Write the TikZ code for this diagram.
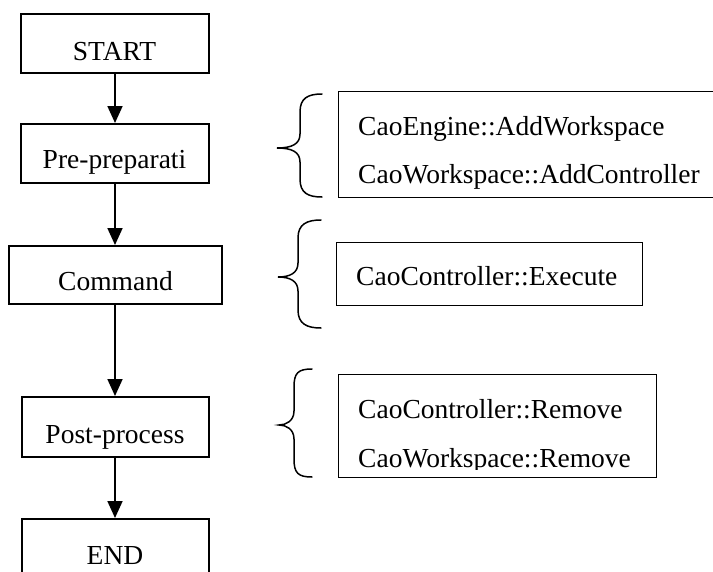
\documentclass[tikz,border=0pt]{standalone}
\usepackage{fontspec}
\setmainfont{Liberation Serif}
\usetikzlibrary{arrows.meta}
\tikzset{
  flowbox/.style={draw, line width=2pt, rectangle, inner sep=0pt},
  infobox/.style={draw, line width=1pt, rectangle, inner sep=0pt},
  txt/.style={font=\fontsize{27.5}{30}\selectfont, inner sep=0pt},
  flowarrow/.style={line width=1.8pt, -{Triangle[width=15pt,length=17pt]}},
  bracestyle/.style={line width=1.5pt, line cap=round}
}
\newcommand\mycurlybrace[6]{%
  % #1 end x, #2 vertical x, #3 tip x, #4 top y, #5 tip y, #6 bottom y
  \draw[bracestyle] (#1,#4) .. controls ({#1-14},#4) and (#2,{#4+4}) .. (#2,{#4+18})
    -- (#2,{#5-14}) .. controls (#2,{#5-4}) and ({#2-8},#5) .. (#3,#5)
    .. controls ({#2-8},#5) and (#2,{#5+4}) .. (#2,{#5+14})
    -- (#2,{#6-18}) .. controls (#2,{#6-4}) and ({#1-14},#6) .. (#1,#6);}
\begin{document}
\begin{tikzpicture}[x=1pt,y=-1pt]
\clip (0,0) rectangle (713,571);
\fill[white] (0,0) rectangle (713,571);
% flow boxes
\node[flowbox, minimum width=188pt, minimum height=59pt] (start) at (115,43.5) {};
\node[flowbox, minimum width=188pt, minimum height=59pt] (pre) at (115,153.5) {};
\node[flowbox, minimum width=213pt, minimum height=58pt] (cmd) at (115,275) {};
\node[flowbox, minimum width=187pt, minimum height=60pt] (post) at (115,427) {};
\node[flowbox, minimum width=187pt, minimum height=70pt] (end) at (115,554) {};
\node[txt, anchor=base] (tstart) at (114.5,60) {START};
\node[txt, anchor=base] (tpre) at (114.5,168) {Pre-preparati};
\node[txt, anchor=base] (tcmd) at (115.5,290) {Command};
\node[txt, anchor=base] (tpost) at (115,443) {Post-process};
\node[txt, anchor=base] (tend) at (115,564) {END};
% arrows
\draw[flowarrow] (start.south) -- (pre.north);
\draw[flowarrow] (pre.south) -- (cmd.north);
\draw[flowarrow] (cmd.south) -- (post.north);
\draw[flowarrow] (post.south) -- (end.north);
% info boxes
\node[infobox, minimum width=382pt, minimum height=106pt] (r1) at (529,144) {};
\node[txt, anchor=base west] (r1a) at (358,135) {CaoEngine::AddWorkspace};
\node[txt, anchor=base west] (r1b) at (358,183) {CaoWorkspace::AddController};
\node[infobox, minimum width=306pt, minimum height=63pt] (r2) at (489,273.5) {};
\node[txt, anchor=base west] (r2a) at (356,285) {CaoController::Execute};
\node[infobox, minimum width=318pt, minimum height=103pt] (r3) at (497,425.5) {};
\node[txt, anchor=base west] (r3a) at (358,418) {CaoController::Remove};
\begin{scope}
\clip (338,440) rectangle (656,469);
\node[txt, anchor=base west] (r3b) at (358,467) {CaoWorkspace::Remove};
\end{scope}
% braces
\mycurlybrace{322}{300}{277}{94}{148}{197}
\mycurlybrace{321}{298}{278}{220}{277}{328}
\mycurlybrace{312}{294}{279}{369}{425}{477}
\end{tikzpicture}
\end{document}
